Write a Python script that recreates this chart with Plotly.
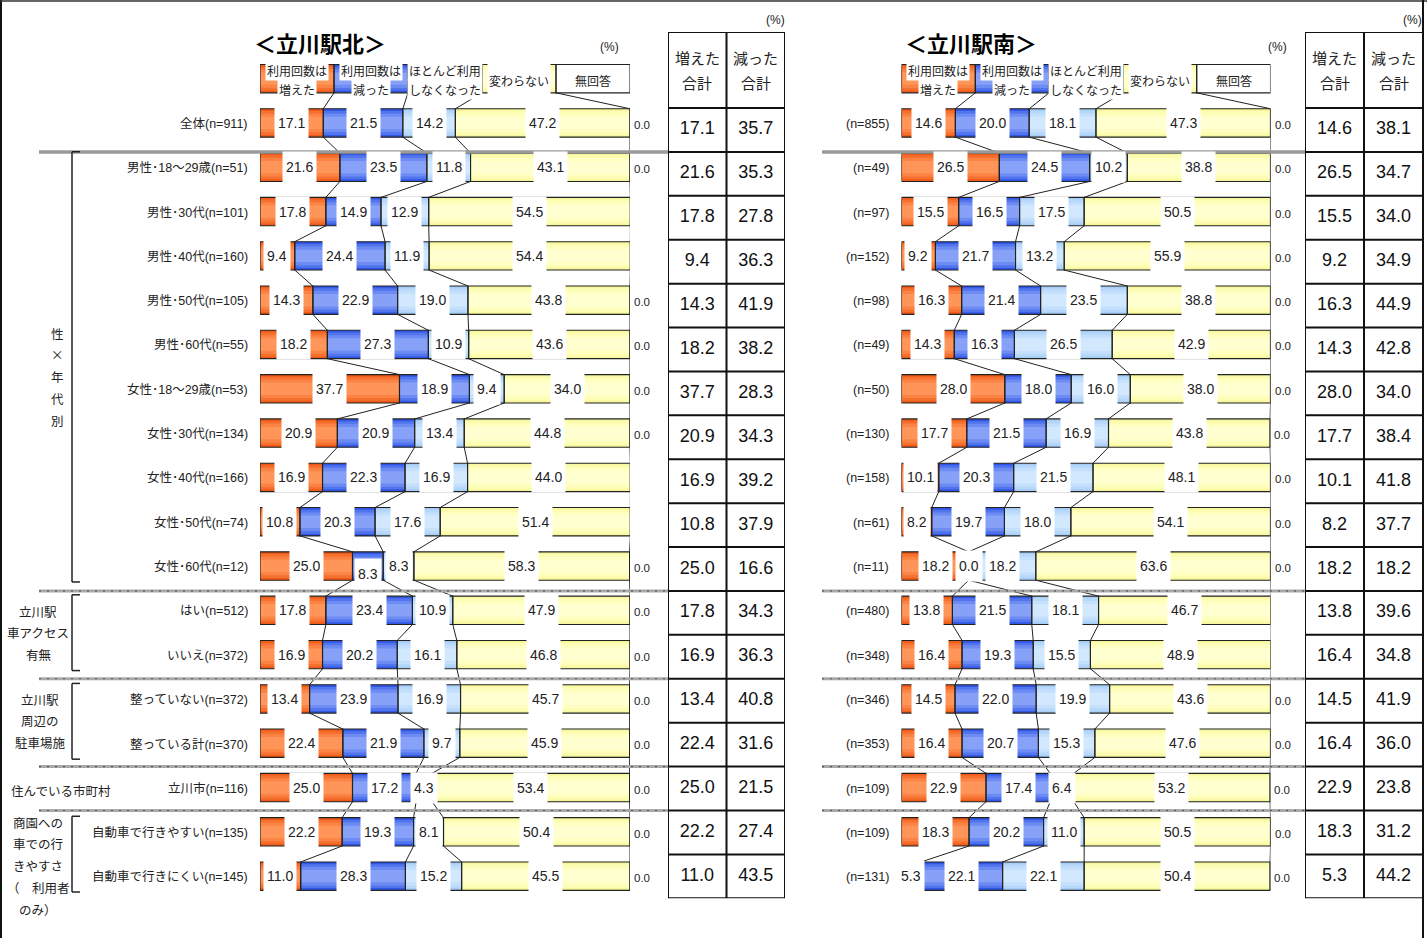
import plotly.graph_objects as go

W, H = 1427, 938

# ---------------- data ----------------
segment_names = ["利用回数は|増えた", "利用回数は|減った", "ほとんど利用|しなくなった", "変わらない", "無回答"]
legend_row = [20.0, 20.0, 20.0, 20.0, 20.0]

north_title = "＜立川駅北＞"
north_labels = [
    "全体(n=911)", "男性･18～29歳(n=51)", "男性･30代(n=101)", "男性･40代(n=160)",
    "男性･50代(n=105)", "男性･60代(n=55)", "女性･18～29歳(n=53)", "女性･30代(n=134)",
    "女性･40代(n=166)", "女性･50代(n=74)", "女性･60代(n=12)", "はい(n=512)",
    "いいえ(n=372)", "整っていない(n=372)", "整っている計(n=370)", "立川市(n=116)",
    "自動車で行きやすい(n=135)", "自動車で行きにくい(n=145)",
]
north_inc = [17.1, 21.6, 17.8, 9.4, 14.3, 18.2, 37.7, 20.9, 16.9, 10.8, 25.0, 17.8, 16.9, 13.4, 22.4, 25.0, 22.2, 11.0]
north_dec = [21.5, 23.5, 14.9, 24.4, 22.9, 27.3, 18.9, 20.9, 22.3, 20.3, 8.3, 23.4, 20.2, 23.9, 21.9, 17.2, 19.3, 28.3]
north_stop = [14.2, 11.8, 12.9, 11.9, 19.0, 10.9, 9.4, 13.4, 16.9, 17.6, 8.3, 10.9, 16.1, 16.9, 9.7, 4.3, 8.1, 15.2]
north_same = [47.2, 43.1, 54.5, 54.4, 43.8, 43.6, 34.0, 44.8, 44.0, 51.4, 58.3, 47.9, 46.8, 45.7, 45.9, 53.4, 50.4, 45.5]
north_na = [0.0, 0.0, 0.0, 0.0, 0.0, 0.0, 0.0, 0.0, 0.0, 0.0, 0.0, 0.0, 0.0, 0.0, 0.0, 0.0, 0.0, 0.0]
north_up_total = [17.1, 21.6, 17.8, 9.4, 14.3, 18.2, 37.7, 20.9, 16.9, 10.8, 25.0, 17.8, 16.9, 13.4, 22.4, 25.0, 22.2, 11.0]
north_down_total = [35.7, 35.3, 27.8, 36.3, 41.9, 38.2, 28.3, 34.3, 39.2, 37.9, 16.6, 34.3, 36.3, 40.8, 31.6, 21.5, 27.4, 43.5]

south_title = "＜立川駅南＞"
south_labels = [
    "(n=855)", "(n=49)", "(n=97)", "(n=152)", "(n=98)", "(n=49)", "(n=50)", "(n=130)",
    "(n=158)", "(n=61)", "(n=11)", "(n=480)", "(n=348)", "(n=346)", "(n=353)", "(n=109)",
    "(n=109)", "(n=131)",
]
south_inc = [14.6, 26.5, 15.5, 9.2, 16.3, 14.3, 28.0, 17.7, 10.1, 8.2, 18.2, 13.8, 16.4, 14.5, 16.4, 22.9, 18.3, 5.3]
south_dec = [20.0, 24.5, 16.5, 21.7, 21.4, 16.3, 18.0, 21.5, 20.3, 19.7, 0.0, 21.5, 19.3, 22.0, 20.7, 17.4, 20.2, 22.1]
south_stop = [18.1, 10.2, 17.5, 13.2, 23.5, 26.5, 16.0, 16.9, 21.5, 18.0, 18.2, 18.1, 15.5, 19.9, 15.3, 6.4, 11.0, 22.1]
south_same = [47.3, 38.8, 50.5, 55.9, 38.8, 42.9, 38.0, 43.8, 48.1, 54.1, 63.6, 46.7, 48.9, 43.6, 47.6, 53.2, 50.5, 50.4]
south_na = [0.0, 0.0, 0.0, 0.0, 0.0, 0.0, 0.0, 0.0, 0.0, 0.0, 0.0, 0.0, 0.0, 0.0, 0.0, 0.0, 0.0, 0.0]
south_up_total = [14.6, 26.5, 15.5, 9.2, 16.3, 14.3, 28.0, 17.7, 10.1, 8.2, 18.2, 13.8, 16.4, 14.5, 16.4, 22.9, 18.3, 5.3]
south_down_total = [38.1, 34.7, 34.0, 34.9, 44.9, 42.8, 34.0, 38.4, 41.8, 37.7, 18.2, 39.6, 34.8, 41.9, 36.0, 23.8, 31.2, 44.2]

table_headers = [["増えた", "合計"], ["減った", "合計"]]
# caption lines, x centre and y of the first line (page pixels)
group_labels = [
    (["性", "×", "年", "代", "別"], 57, 333),
    (["立川駅", "車アクセス", "有無"], 38, 611),
    (["立川駅", "周辺の", "駐車場施"], 40, 699),
    (["住んでいる市町村"], 61, 790),
    (["商園への", "車での行", "きやすさ", "（　利用者", "のみ）"], 38, 822),
]
group_rows = [(2, 11), (12, 13), (14, 15), (17, 18)]
separator_rows = [1, 11, 13, 15, 16]

# ---------------- styling ----------------
LATIN = "Liberation Sans, Arial, Noto Sans CJK JP, sans-serif"
CJK = "Noto Sans CJK JP, sans-serif"
INK = "#222222"

# outer -> inner bands give each bar a vertical shading
LAYER_W = [0.64, 0.54, 0.42, 0.28]
SHADES = [
    ["#EE5A17", "#F6702F", "#FB8344", "#FF9558"],
    ["#3157E6", "#5275EE", "#6C8BF3", "#86A1F7"],
    ["#A6CDF5", "#B7D8FA", "#C5E0FC", "#D2E8FF"],
    ["#F7F79E", "#FCFCB2", "#FFFFC2", "#FFFFD0"],
    ["#FFFFFF", "#FFFFFF", "#FFFFFF", "#FFFFFF"],
]
HALF = 0.32


def px(x):
    return x / W


def py(y):
    return 1 - y / H


def note(text, x, y, size, family=CJK, **kw):
    """Text placed in page pixels, centred on (x, y) unless anchors are given."""
    d = dict(x=px(x), y=py(y), xref="paper", yref="paper", text=text, showarrow=False,
             xanchor="center", yanchor="middle", font=dict(family=family, size=size, color=INK))
    d.update(kw)
    return d


fig = go.Figure()
annotations = []
shapes = []

panels = [
    dict(xa="x", title=north_title, title_x=320, labels=north_labels, label_x=250,
         segs=[north_inc, north_dec, north_stop, north_same, north_na],
         pct_x=609, sep=(39, 668)),
    dict(xa="x2", title=south_title, title_x=971, labels=south_labels, label_x=891,
         segs=[south_inc, south_dec, south_stop, south_same, south_na],
         pct_x=1277, sep=(822, 1305)),
]

n_rows = len(north_labels) + 1
rows = list(range(n_rows))

for p in panels:
    xa = p["xa"]
    seg_vals = [[legend_row[k]] + p["segs"][k] for k in range(5)]
    bases = []
    acc = [0.0] * n_rows
    for k in range(5):
        bases.append(acc[:])
        acc = [a + v for a, v in zip(acc, seg_vals[k])]
    bounds = bases[1:] + [acc]

    # shaded bar bands
    for k in range(5):
        for w, c in zip(LAYER_W, SHADES[k]):
            fig.add_trace(go.Bar(
                orientation="h", y=rows, x=seg_vals[k], base=bases[k], width=w,
                marker=dict(color=c, line=dict(width=0)),
                xaxis=xa, yaxis="y", hoverinfo="skip", showlegend=False))
    # outlines
    for k in range(5):
        fig.add_trace(go.Bar(
            orientation="h", y=rows, x=seg_vals[k], base=bases[k], width=LAYER_W[0],
            marker=dict(color="rgba(0,0,0,0)", line=dict(width=1.1, color=INK)),
            xaxis=xa, yaxis="y", hoverinfo="skip", showlegend=False))

    # series lines joining segment boundaries of neighbouring bars
    for k in range(4):
        cum = bounds[k]
        xs, ys = [], []
        for r in range(n_rows - 1):
            xs += [cum[r], cum[r + 1], None]
            ys += [r + HALF, r + 1 - HALF, None]
        fig.add_trace(go.Scatter(
            x=xs, y=ys, mode="lines", line=dict(color=INK, width=1),
            xaxis=xa, yaxis="y", hoverinfo="skip", showlegend=False))

    # legend row labels
    for k, name in enumerate(segment_names):
        cx = bases[k][0] + seg_vals[k][0] / 2
        parts = name.split("|")
        bg = "white" if k < 4 else "rgba(0,0,0,0)"
        if len(parts) == 2:
            for part, ys_ in zip(parts, (8, -11)):
                annotations.append(dict(
                    x=cx, y=0, xref=xa, yref="y", text=part, showarrow=False,
                    xanchor="center", yanchor="middle",
                    yshift=ys_, bgcolor=bg, borderpad=1, height=17,
                    font=dict(family=CJK, size=12, color=INK)))
        else:
            annotations.append(dict(
                x=cx, y=0, xref=xa, yref="y", text=parts[0], showarrow=False,
                xanchor="center", yanchor="middle",
                yshift=-1, bgcolor=bg, borderpad=1, height=32,
                font=dict(family=CJK, size=12, color=INK)))

    # data labels
    for i in range(len(p["labels"])):
        r = i + 1
        for k in range(4):
            v = p["segs"][k][i]
            shift = 0
            if k < 3 and v < 8.5 and p["segs"][k + 1][i] < 8.5:
                shift = -8
            annotations.append(dict(
                x=bases[k][r] + v / 2, y=r, xref=xa, yref="y", text=f"{v:.1f}",
                showarrow=False, xanchor="center", yanchor="middle",
                bgcolor="white", borderpad=3, height=24, yshift=shift,
                font=dict(family=LATIN, size=14, color=INK)))
        annotations.append(dict(
            x=bounds[3][r], y=r, xref=xa, yref="y", text=f"{p['segs'][4][i]:.1f}",
            showarrow=False, xanchor="left", yanchor="middle", xshift=2, yshift=-2,
            font=dict(family=LATIN, size=11.5, color=INK)))
        annotations.append(dict(
            x=px(p["label_x"]), y=r, xref="paper", yref="y", text=p["labels"][i],
            showarrow=False, xanchor="right", yanchor="middle", yshift=-1,
            font=dict(family=LATIN, size=12.5, color=INK)))

    # titles and unit
    annotations.append(note(f"<b>{p['title']}</b>", p["title_x"], 42, 22,
                            font=dict(family=CJK, size=22, color="#000", weight=900)))
    annotations.append(note("(%)", p["pct_x"], 47, 12, family=LATIN))

    # horizontal group separators
    x0, x1 = p["sep"]
    for j, yr in enumerate(separator_rows):
        if j == 0:
            shapes.append(dict(type="line", xref="paper", yref="y3", x0=px(x0), x1=px(x1),
                               y0=yr, y1=yr, line=dict(color="#9A9A9A", width=3.5)))
        else:
            shapes.append(dict(type="line", xref="paper", yref="y3", x0=px(x0), x1=px(x1),
                               y0=yr, y1=yr, line=dict(color="#A8A8A8", width=3)))
            shapes.append(dict(type="line", xref="paper", yref="y3", x0=px(x0), x1=px(x1),
                               y0=yr, y1=yr, line=dict(color="#555555", width=1.2, dash="2px,6px")))

# ---------------- totals tables ----------------
HDR = 76 / 43.9
tables = [("x3", north_up_total, north_down_total, 775), ("x4", south_up_total, south_down_total, 1412)]
n_data = len(north_labels)
for xa, up, down, pct in tables:
    fig.add_trace(go.Scatter(
        x=[0.5] * n_data + [1.5] * n_data,
        y=[i + 0.5 for i in range(n_data)] * 2,
        text=[f"{v:.1f}" for v in up] + [f"{v:.1f}" for v in down],
        mode="text", textfont=dict(family=LATIN, size=18, color="#111"),
        xaxis=xa, yaxis="y3", hoverinfo="skip", showlegend=False))
    for c in range(3):
        shapes.append(dict(type="line", xref=xa, yref="y3", x0=c, x1=c, y0=-HDR, y1=n_data,
                           line=dict(color="#111", width=2)))
    for r in [-HDR] + list(range(n_data + 1)):
        shapes.append(dict(type="line", xref=xa, yref="y3", x0=0, x1=2, y0=r, y1=r,
                           line=dict(color="#111", width=2)))
    for c, (l1, l2) in enumerate(table_headers):
        for txt, yy in ((l1, 57), (l2, 83)):
            annotations.append(dict(
                x=c + 0.5, y=py(yy), xref=xa, yref="paper", text=txt, showarrow=False,
                xanchor="center", yanchor="middle",
                font=dict(family=CJK, size=15, color=INK)))
    annotations.append(note("(%)", pct, 20, 12, family=LATIN))

# ---------------- group captions and brackets ----------------
for lines, gx, gy in group_labels:
    for j, line in enumerate(lines):
        annotations.append(note(line, gx, gy + 21.8 * j, 12.5))
for r0, r1 in group_rows:
    t, b = r0 - 0.35, r1 + 0.36
    shapes.append(dict(type="line", xref="paper", yref="y", x0=px(72), x1=px(72), y0=t, y1=b,
                       line=dict(color=INK, width=1.5)))
    for yy in (t, b):
        shapes.append(dict(type="line", xref="paper", yref="y", x0=px(72), x1=px(80), y0=yy, y1=yy,
                           line=dict(color=INK, width=1.5)))

# outer frame (left, top, right)
shapes.append(dict(type="line", xref="paper", yref="paper", x0=px(1), x1=px(1), y0=0, y1=1,
                   line=dict(color="#111", width=2)))
shapes.append(dict(type="line", xref="paper", yref="paper", x0=0, x1=1, y0=py(1), y1=py(1),
                   line=dict(color="#333", width=1.5)))
shapes.append(dict(type="line", xref="paper", yref="paper", x0=px(1423), x1=px(1423), y0=0, y1=1,
                   line=dict(color="#111", width=2)))

hidden = dict(visible=False, fixedrange=True)
fig.update_layout(
    width=W, height=H, autosize=False,
    margin=dict(l=0, r=0, t=0, b=0),
    paper_bgcolor="white", plot_bgcolor="rgba(0,0,0,0)",
    barmode="overlay", showlegend=False,
    xaxis=dict(domain=[px(260), px(630)], range=[0, 100], anchor="y", **hidden),
    xaxis2=dict(domain=[px(901.5), px(1270.5)], range=[0, 100], anchor="y", **hidden),
    yaxis=dict(domain=[py(898.3), py(56.5)], range=[n_rows - 0.5, -0.5], **hidden),
    xaxis3=dict(domain=[px(668), px(785)], range=[0, 2], anchor="y3", **hidden),
    xaxis4=dict(domain=[px(1305), px(1423)], range=[0, 2], anchor="y3", **hidden),
    yaxis3=dict(domain=[py(898.3), py(32)], range=[n_data, -HDR], anchor="x3", **hidden),
    annotations=annotations,
    shapes=shapes,
)

fig.write_html("out.html")
